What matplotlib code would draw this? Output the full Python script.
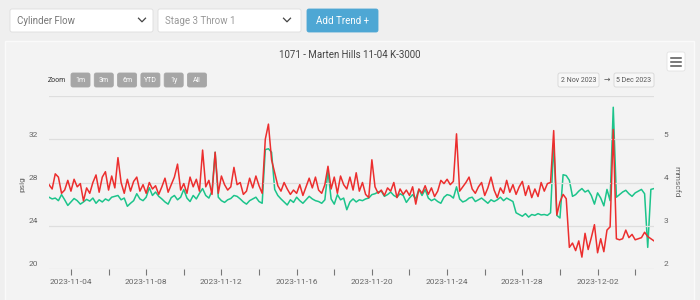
import matplotlib
matplotlib.use('Agg')
import matplotlib.pyplot as plt
from matplotlib.patches import FancyBboxPatch, Rectangle
from matplotlib.transforms import ScaledTranslation
import pandas as pd

plt.rcParams['font.family'] = ['Roboto', 'DejaVu Sans']

# chart data, one reading every 4 hours
title = '1071 - Marten Hills 11-04 K-3000'
start = '2023-11-02 20:00'
step = '4h'

pressure = [  # psig (red, left axis)
    27.8, 27.4, 28.8, 28.5, 27.0, 27.3, 28.2, 27.2, 28.3, 27.6,
    27.9, 26.3, 27.5, 27.0, 28.0, 28.7, 27.1, 28.5, 29.0, 27.3,
    28.6, 27.5, 30.3, 28.0, 27.0, 28.3, 27.2, 28.1, 28.5, 27.2,
    27.8, 27.0, 28.0, 27.4, 27.7, 26.9, 27.6, 28.4, 27.1, 27.8,
    28.5, 29.7, 27.3, 27.9, 27.0, 28.5, 27.6, 28.3, 27.2, 31.0,
    27.6, 28.2, 26.9, 30.8, 27.0, 28.6, 27.8, 27.3, 27.6, 29.4,
    27.8, 28.0, 26.9, 27.2, 28.4, 27.5, 28.6, 27.7, 27.0, 32.0,
    33.4, 30.1, 28.9, 27.7, 27.2, 28.0, 27.4, 26.9, 27.3, 27.0,
    27.8, 26.8, 27.6, 28.4, 27.5, 28.5, 27.3, 27.0, 27.8, 29.5,
    27.4, 28.5, 27.0, 28.6, 27.8, 27.4, 28.5, 27.3, 28.9, 27.2,
    28.0, 26.9, 26.6, 30.1, 27.6, 27.0, 27.3, 26.8, 27.5, 27.2,
    28.0, 26.6, 27.4, 26.9, 27.3, 26.8, 27.6, 26.0, 27.4, 27.0,
    27.7, 26.9, 27.5, 26.7, 27.2, 28.2, 27.9, 28.3, 27.8, 28.1,
    32.5, 27.2, 27.6, 28.0, 28.5, 27.4, 27.0, 27.6, 28.0, 26.8,
    27.5, 28.5, 27.3, 26.6, 27.5, 27.0, 28.2, 27.1, 27.8, 26.9,
    27.6, 28.1, 26.8, 27.7, 26.6, 27.4, 26.7, 28.0, 27.2, 27.9,
    28.0, 32.8, 25.0, 26.2, 26.9, 26.5, 22.0, 22.4, 21.7, 22.6,
    21.1, 23.3, 21.8, 22.9, 24.1, 21.5, 22.8, 21.6, 23.6, 23.9,
    32.9, 22.8, 22.7, 22.8, 23.6, 22.9, 23.2, 22.7, 22.8, 22.9,
    23.4, 23.0, 22.8, 22.6,
]

flow = [  # mmscfd (green, right axis)
    3.66, 3.62, 3.64, 3.58, 3.72, 3.60, 3.47, 3.55, 3.63, 3.58,
    3.50, 3.55, 3.61, 3.57, 3.64, 3.52, 3.60, 3.55, 3.62, 3.58,
    3.66, 3.68, 3.70, 3.60, 3.64, 3.45, 3.52, 3.58, 3.74, 3.62,
    3.58, 3.66, 3.88, 3.70, 3.78, 3.68, 3.62, 3.55, 3.50, 3.65,
    3.70, 3.60, 3.66, 3.84, 3.64, 3.56, 3.70, 3.62, 3.75, 3.86,
    3.70, 3.64, 3.80, 4.70, 3.66, 3.58, 3.54, 3.60, 3.63, 3.70,
    3.68, 3.62, 3.55, 3.50, 3.58, 3.62, 3.66, 3.56, 3.52, 4.76,
    4.78, 4.70, 3.84, 3.70, 3.62, 3.55, 3.48, 3.60, 3.54, 3.66,
    3.58, 3.52, 3.60, 3.68, 3.62, 3.58, 3.56, 3.52, 3.60, 4.26,
    3.62, 3.50, 3.72, 3.60, 3.64, 3.37, 3.55, 3.62, 3.55, 3.60,
    3.58, 3.62, 3.64, 3.72, 3.74, 3.78, 3.80, 3.68, 3.72, 3.78,
    3.70, 3.66, 3.74, 3.70, 3.54, 3.64, 3.72, 3.62, 3.84, 3.70,
    3.84, 3.64, 3.58, 3.62, 3.56, 3.52, 3.66, 3.72, 3.70, 3.64,
    3.90, 3.62, 3.55, 3.58, 3.64, 3.66, 3.56, 3.60, 3.64, 3.58,
    3.52, 3.60, 3.56, 3.60, 3.66, 3.58, 3.64, 3.60, 3.56, 3.30,
    3.26, 3.22, 3.28, 3.20, 3.26, 3.24, 3.28, 3.25, 3.26, 3.24,
    3.30, 4.90, 3.24, 3.18, 4.18, 4.16, 4.05, 3.68, 3.72, 3.80,
    3.86, 3.78, 3.82, 3.70, 3.50, 3.76, 3.64, 3.46, 3.84, 3.58,
    5.74, 3.66, 3.72, 3.78, 3.82, 3.74, 3.68, 3.76, 3.80, 3.84,
    3.74, 2.50, 3.84, 3.86,
]

left_ticks = [20, 24, 28, 32, 36]
right_ticks = [2, 3, 4, 5, 6]
zoom_buttons = ['1m', '3m', '6m', 'YTD', '1y', 'All']
range_from = '2 Nov 2023'
range_to = '5 Dec 2023'

RED = '#ec2e2e'
GREEN = '#1cc48b'
GREY = '#666666'

times = pd.date_range(start, periods=len(pressure), freq=step)

fig = plt.figure(figsize=(7, 3), dpi=100, facecolor='#efefef')

# page / ui layer in pixel coords
ui = fig.add_axes([0, 0, 1, 1])
ui.set_xlim(0, 700)
ui.set_ylim(300, 0)
ui.axis('off')
ui.add_patch(Rectangle((5, 41), 689, 262, facecolor='#f3f3f3', edgecolor='#fafafa', lw=1))


def box(x0, y0, w, h, fc, ec):
    ui.add_patch(FancyBboxPatch((x0, y0), w, h, boxstyle='round,pad=0,rounding_size=2',
                                facecolor=fc, edgecolor=ec, lw=0.6))


def chevron(xc, yc):
    ui.plot([xc - 3.5, xc, xc + 3.5], [yc - 1.8, yc + 1.8, yc - 1.8], color='#444444', lw=0.9)


box(10, 9, 143, 23, 'white', '#dddddd')
ui.text(17, 20.5, 'Cylinder Flow', fontsize=7, color='#777777', va='center')
chevron(142, 20)
box(158, 9, 143, 23, 'white', '#dddddd')
ui.text(165, 20.5, 'Stage 3 Throw 1', fontsize=7, color='#999999', va='center')
chevron(287, 20)
box(307, 9, 71, 23, '#4ea7d4', '#4ea7d4')
ui.text(342.5, 20.5, 'Add Trend +', fontsize=7, color='white', va='center', ha='center')

ui.text(350, 55, title, fontsize=7, color='#444444', ha='center', va='center')

# hamburger menu
box(667, 52, 18, 19, 'white', '#e2e2e2')
for yy in (57.5, 61.5, 65.5):
    ui.plot([671, 681], [yy, yy], color='#555555', lw=1.1)

# zoom buttons
ui.text(48, 80, 'Zoom', fontsize=5, color='#333333', va='center')
bx = 71
for lab in zoom_buttons:
    box(bx, 73, 19, 14, '#a6a6a6', '#a6a6a6')
    ui.text(bx + 9.5, 80.5, lab, fontsize=5, color='white', ha='center', va='center')
    bx += 23.3

# date range inputs
box(558, 73, 41, 14, '#f7f7f7', '#d6d6d6')
ui.text(578.5, 80.5, range_from, fontsize=5, color='#555555', ha='center', va='center')
ui.text(606.5, 80, '\u2192', fontsize=5.5, color='#555555', ha='center', va='center')
box(614, 73, 40, 14, '#f7f7f7', '#d6d6d6')
ui.text(634, 80.5, range_to, fontsize=5, color='#555555', ha='center', va='center')

# chart
ax = fig.add_axes([49 / 700, 31 / 300, 605 / 700, 173 / 300])
ax.set_facecolor('none')
ax2 = ax.twinx()

ax.plot(times, pressure, color=RED, lw=1.1, zorder=3)
ax2.plot(times, flow, color=GREEN, lw=1.1, zorder=2)
ax.set_zorder(ax2.get_zorder() + 1)
ax.patch.set_visible(False)

ax.set_xlim(times[0], times[-1])
ax.set_ylim(left_ticks[0], left_ticks[-1])
ax2.set_ylim(right_ticks[0], right_ticks[-1])

for a in (ax, ax2):
    for s in a.spines.values():
        s.set_visible(False)

ax.set_yticks(left_ticks)
ax.set_yticklabels([str(v) for v in left_ticks[:-1]] + [''])
ax2.set_yticks(right_ticks)
ax2.set_yticklabels([str(v) for v in right_ticks[:-1]] + [''])
ax.grid(axis='y', color='#dedede', lw=0.9)
ax.tick_params(axis='y', length=0, pad=8, labelsize=6, labelcolor=GREY)
ax2.tick_params(axis='y', length=0, pad=7, labelsize=6, labelcolor=GREY)

# lift y labels slightly above their grid lines
shift = ScaledTranslation(0, 5 / 100, fig.dpi_scale_trans)
for lab in ax.get_yticklabels() + ax2.get_yticklabels():
    lab.set_transform(lab.get_transform() + shift)

xt = pd.date_range('2023-11-04', '2023-12-04', freq='2D')
ax.set_xticks(xt)
ax.set_xticklabels([d.strftime('%Y-%m-%d') if i % 2 == 0 else '' for i, d in enumerate(xt)])
ax.tick_params(axis='x', length=4, width=0.8, color='#777777', pad=3,
               labelsize=6, labelcolor=GREY)

fig.text(22 / 700, 1 - 184 / 300, 'psig', rotation=90, fontsize=6, color=GREY,
         ha='center', va='center')
fig.text(676 / 700, 1 - 182 / 300, 'mmscfd', rotation=270, fontsize=6, color=GREY,
         ha='center', va='center')

fig.savefig('out.png', dpi=100, facecolor=fig.get_facecolor())
